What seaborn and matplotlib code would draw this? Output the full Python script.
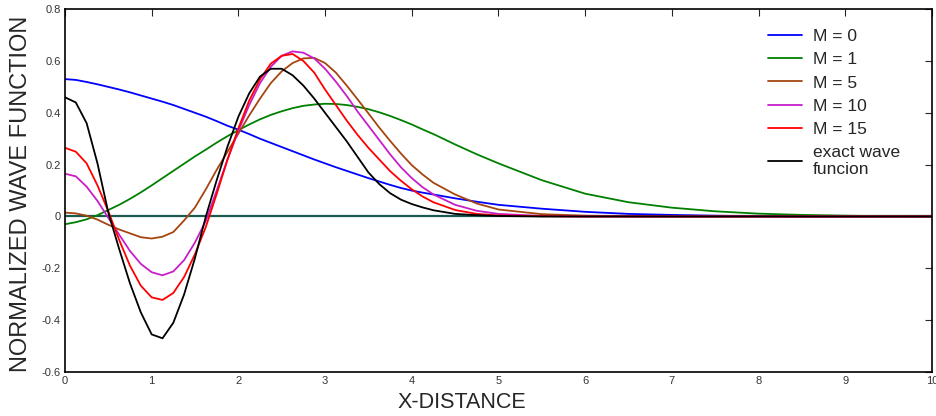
import matplotlib
matplotlib.use("Agg")
import matplotlib.pyplot as plt
import seaborn as sns
import pandas as pd

# x positions (finer where the curves wiggle)
x_dist = [0, 0.125, 0.25, 0.375, 0.5, 0.625, 0.75, 0.875, 1.0, 1.125, 1.25, 1.375,
          1.5, 1.625, 1.75, 1.875, 2.0, 2.125, 2.25, 2.375, 2.5, 2.625, 2.75, 2.875,
          3.0, 3.125, 3.25, 3.375, 3.5, 3.625, 3.75, 3.875, 4.0, 4.125, 4.25,
          4.5, 4.75, 5.0, 5.5, 6.0, 6.5, 7.0, 7.5, 8.0, 8.5, 9.0, 9.5, 10.0]

m0 = [0.530, 0.527, 0.519, 0.510, 0.500, 0.490, 0.479, 0.467, 0.455, 0.443, 0.430, 0.415,
      0.400, 0.385, 0.368, 0.350, 0.335, 0.318, 0.300, 0.284, 0.268, 0.252, 0.236, 0.220,
      0.205, 0.190, 0.176, 0.162, 0.148, 0.135, 0.122, 0.110, 0.100, 0.092, 0.085,
      0.070, 0.057, 0.045, 0.030, 0.018, 0.010, 0.006, 0.003, 0.001, 0.0, 0.0, 0.0, 0.0]
m1 = [-0.030, -0.022, -0.011, 0.005, 0.025, 0.045, 0.068, 0.093, 0.120, 0.148, 0.176, 0.204,
      0.232, 0.258, 0.285, 0.310, 0.333, 0.355, 0.375, 0.392, 0.406, 0.418, 0.427, 0.432,
      0.435, 0.434, 0.430, 0.423, 0.414, 0.402, 0.388, 0.372, 0.355, 0.336, 0.318,
      0.278, 0.240, 0.205, 0.140, 0.088, 0.055, 0.034, 0.020, 0.011, 0.006, 0.003, 0.001, 0.0]
m5 = [0.015, 0.012, 0.003, -0.012, -0.032, -0.050, -0.065, -0.080, -0.085, -0.078, -0.060, -0.015,
      0.035, 0.105, 0.180, 0.250, 0.320, 0.390, 0.455, 0.515, 0.560, 0.592, 0.610, 0.612,
      0.592, 0.555, 0.505, 0.452, 0.398, 0.343, 0.292, 0.243, 0.198, 0.162, 0.130,
      0.085, 0.050, 0.027, 0.009, 0.003, 0.001, 0.0, 0.0, 0.0, 0.0, 0.0, 0.0, 0.0]
m10 = [0.165, 0.155, 0.115, 0.060, -0.005, -0.070, -0.133, -0.183, -0.215, -0.227, -0.212, -0.168,
       -0.100, -0.017, 0.100, 0.220, 0.330, 0.430, 0.515, 0.578, 0.620, 0.637, 0.632, 0.610,
       0.570, 0.520, 0.465, 0.405, 0.350, 0.295, 0.240, 0.190, 0.148, 0.113, 0.085,
       0.045, 0.022, 0.010, 0.002, 0.0, 0.0, 0.0, 0.0, 0.0, 0.0, 0.0, 0.0, 0.0]
m15 = [0.265, 0.250, 0.205, 0.120, 0.020, -0.090, -0.190, -0.267, -0.312, -0.322, -0.295, -0.233,
       -0.145, -0.040, 0.087, 0.220, 0.340, 0.447, 0.530, 0.590, 0.620, 0.627, 0.600, 0.555,
       0.490, 0.430, 0.370, 0.315, 0.265, 0.220, 0.175, 0.138, 0.105, 0.077, 0.055,
       0.025, 0.010, 0.004, 0.001, 0.0, 0.0, 0.0, 0.0, 0.0, 0.0, 0.0, 0.0, 0.0]
exact = [0.460, 0.440, 0.360, 0.205, 0.015, -0.125, -0.258, -0.370, -0.455, -0.470, -0.410, -0.300,
         -0.160, 0.000, 0.140, 0.270, 0.385, 0.475, 0.540, 0.570, 0.570, 0.545, 0.505, 0.455,
         0.400, 0.345, 0.290, 0.230, 0.170, 0.125, 0.090, 0.065, 0.048, 0.035, 0.024,
         0.010, 0.005, 0.002, 0.0, 0.0, 0.0, 0.0, 0.0, 0.0, 0.0, 0.0, 0.0, 0.0]

labels = ["M = 0", "M = 1", "M = 5", "M = 10", "M = 15", "exact wave\nfuncion"]
colors = ["#0000ff", "#008000", "#a5450f", "#c81ec8", "#ff0000", "#000000"]

rows = []
for lab, ys in zip(labels, [m0, m1, m5, m10, m15, exact]):
    for xv, yv in zip(x_dist, ys):
        rows.append({"x": xv, "y": yv, "series": lab})
df = pd.DataFrame(rows)

sns.set_style("white")
plt.rcParams["font.family"] = ["Liberation Sans", "DejaVu Sans"]

fig = plt.figure(figsize=(9.36, 4.16), dpi=100)
ax = fig.add_axes([0.0694, 0.1058, 0.9263, 0.8722])

ax.axhline(0, color="#1a5a4f", lw=1.6, zorder=1)
sns.lineplot(data=df, x="x", y="y", hue="series", hue_order=labels,
             palette=dict(zip(labels, colors)), lw=1.3, ax=ax, zorder=2)

ax.set_xlim(0, 10)
ax.set_ylim(-0.6, 0.8)
ax.set_xticks(range(0, 11))
ax.set_xticklabels([str(i) for i in range(0, 11)])
yt = [-0.6, -0.4, -0.2, 0, 0.2, 0.4, 0.6, 0.8]
ax.set_yticks(yt)
ax.set_yticklabels(["-0.6", "-0.4", "-0.2", "0", "0.2", "0.4", "0.6", "0.8"])
ax.tick_params(direction="in", length=5, width=0.8, top=True, right=True,
               labelsize=8, labelcolor="#333333", pad=3)
for s in ax.spines.values():
    s.set_visible(True)
    s.set_color("black")
    s.set_linewidth(1.2)

ax.set_xlabel("X-DISTANCE", fontsize=15.5)
ax.xaxis.label.set_va("center")
ax.xaxis.set_label_coords(0.458, -0.083)
ax.set_ylabel("NORMALIZED WAVE FUNCTION", fontsize=17)
ax.yaxis.label.set_va("center")
ax.yaxis.set_label_coords(-0.0507, 0.49)

leg = ax.legend(loc="upper left", bbox_to_anchor=(0.811, 0.945), frameon=False,
                fontsize=12.5, handlelength=1.95, handletextpad=0.63,
                labelspacing=0.46, borderpad=0, borderaxespad=0)
for h in leg.get_lines():
    h.set_linewidth(1.3)

fig.savefig("out.png", dpi=100)
